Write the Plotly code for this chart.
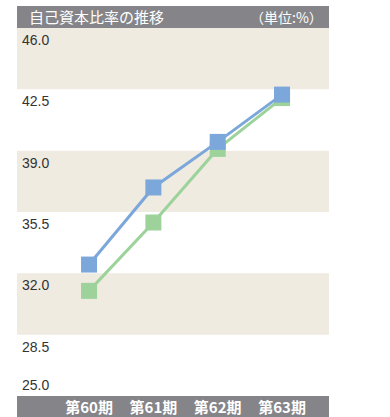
import plotly.graph_objects as go

# Equity ratio by fiscal period (%)
periods = ["第60期", "第61期", "第62期", "第63期"]
ratio_blue = [32.5, 36.9, 39.5, 42.2]
ratio_green = [31.0, 34.9, 39.1, 42.0]
y_ticks = [46.0, 42.5, 39.0, 35.5, 32.0, 28.5, 25.0]
shaded_bands = [(42.5, 46.0), (35.5, 39.0), (28.5, 32.0)]

W, H = 390, 417
BAR_GRAY = "#858589"
BEIGE = "#EFEBE1"
BLUE = "#7BA7DA"
GREEN = "#9DD29B"

def px_x(x):
    return x / W

def px_y(y):
    return (H - y) / H

fig = go.Figure()

x_idx = list(range(len(periods)))

fig.add_trace(go.Scatter(
    x=x_idx, y=ratio_green, mode="lines+markers",
    line=dict(color=GREEN, width=3),
    marker=dict(symbol="square", size=16, color=GREEN),
    hoverinfo="skip", showlegend=False,
))
fig.add_trace(go.Scatter(
    x=x_idx, y=ratio_blue, mode="lines+markers",
    line=dict(color=BLUE, width=3),
    marker=dict(symbol="square", size=16, color=BLUE),
    hoverinfo="skip", showlegend=False,
))

shapes = []
# alternating background bands
for lo, hi in shaded_bands:
    shapes.append(dict(type="rect", xref="paper", yref="y",
                       x0=px_x(17), x1=px_x(329), y0=lo, y1=hi,
                       fillcolor=BEIGE, line=dict(width=0), layer="below"))
# header bar and category bar
shapes.append(dict(type="rect", xref="paper", yref="paper",
                   x0=px_x(17), x1=px_x(329), y0=px_y(28), y1=px_y(6),
                   fillcolor=BAR_GRAY, line=dict(width=0), layer="below"))
shapes.append(dict(type="rect", xref="paper", yref="paper",
                   x0=px_x(17), x1=px_x(329), y0=0, y1=px_y(396),
                   fillcolor=BAR_GRAY, line=dict(width=0), layer="below"))

annotations = [
    dict(text="自己資本比率の推移", xref="paper", yref="paper",
         x=px_x(27), y=px_y(17), xanchor="left", yanchor="middle",
         showarrow=False,
         font=dict(family="Noto Sans CJK JP", size=15, color="white")),
    dict(text="（単位:%）", xref="paper", yref="paper",
         x=px_x(325), y=px_y(17), xanchor="right", yanchor="middle",
         showarrow=False,
         font=dict(family="Noto Sans CJK JP", size=14, color="white")),
]
for v in y_ticks:
    last = v == min(y_ticks)
    annotations.append(dict(
        text=f"{v:.1f}", xref="paper", yref="y",
        x=px_x(20), y=v, xanchor="left",
        yanchor="bottom" if last else "top",
        yshift=1 if last else -2,
        showarrow=False,
        font=dict(family="Liberation Sans, Arial", size=14, color="#333333"),
    ))

fig.update_layout(
    width=W, height=H,
    margin=dict(l=0, r=0, t=0, b=0),
    paper_bgcolor="white", plot_bgcolor="rgba(0,0,0,0)",
    shapes=shapes, annotations=annotations,
    xaxis=dict(
        domain=[px_x(17), px_x(329)],
        range=[-1.12, 3.73],
        tickmode="array", tickvals=x_idx, ticktext=periods,
        showgrid=False, zeroline=False, showline=False, ticks="",
        tickfont=dict(family="Noto Sans CJK JP", size=15, color="white",
                      weight="bold"),
        ticklabelstandoff=1,
        fixedrange=True,
    ),
    yaxis=dict(
        domain=[px_y(396), px_y(28)],
        range=[25.0, 46.0],
        showgrid=False, zeroline=False, showline=False,
        showticklabels=False, ticks="",
        fixedrange=True,
    ),
)

fig.write_html("out.html")
